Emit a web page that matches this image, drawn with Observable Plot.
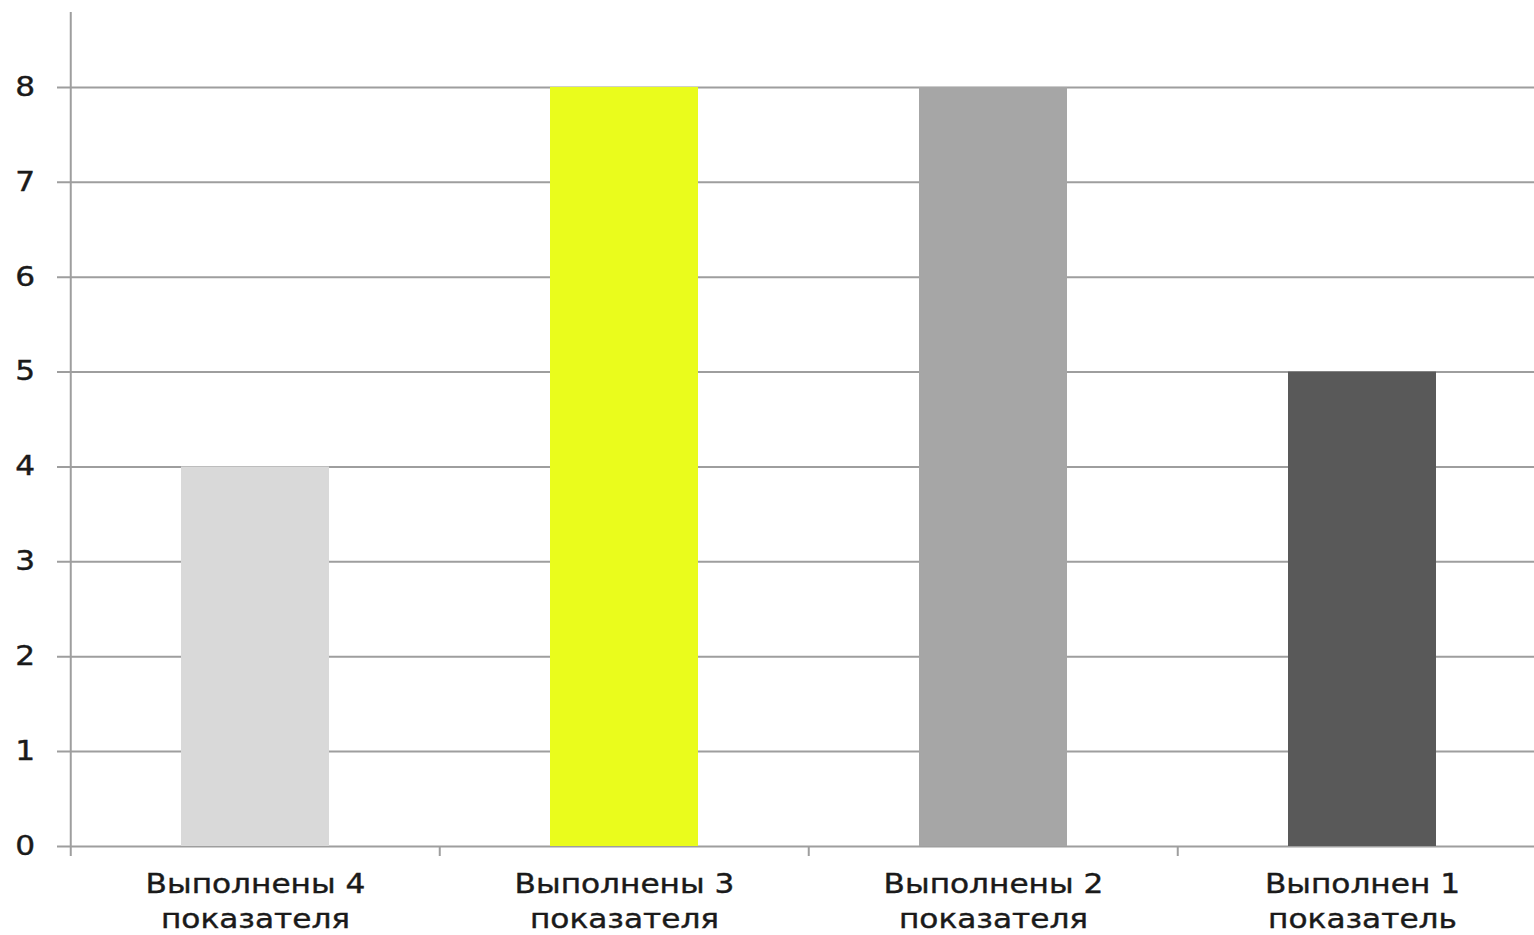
<!DOCTYPE html>
<html>
<head>
<meta charset="utf-8">
<script src="https://cdn.jsdelivr.net/npm/d3@7"></script>
<script src="https://cdn.jsdelivr.net/npm/@observablehq/plot@0.6"></script>
<style>
  html, body { margin: 0; padding: 0; background: #fff; overflow: hidden; }
  #chart svg { display: block; overflow: visible; }
  #chart text { stroke: #1a1a1a; stroke-width: 0.4px; }
  .stretch { transform-box: fill-box; transform-origin: center; transform: scaleX(1.2); }
</style>
</head>
<body>
<div id="chart"></div>
<script>
const categories = ["Выполнены 4 показателя", "Выполнены 3 показателя", "Выполнены 2 показателя", "Выполнен 1 показатель"];
const line1 = ["Выполнены 4", "Выполнены 3", "Выполнены 2", "Выполнен 1"];
const line2 = ["показателя", "показателя", "показателя", "показатель"];
const values = [4, 8, 8, 5];
const colors = ["#d9d9d9", "#eafc1c", "#a6a6a6", "#595959"];
const yTicks = [0, 1, 2, 3, 4, 5, 6, 7, 8];
const yMax = 8.79;

const data = categories.map((c, i) => ({cat: c, value: values[i], color: colors[i], l1: line1[i], l2: line2[i]}));

const width = 1534, height = 935;
const marginLeft = 69, marginRight = -13, marginTop = 12, marginBottom = 89;
const step = (width - marginLeft - marginRight) / categories.length;
const font = "'DejaVu Sans', Verdana, sans-serif";

const chart = Plot.plot({
  width, height, marginLeft, marginRight, marginTop, marginBottom,
  style: {fontFamily: font, fontSize: "26px", background: "#fff", color: "#1a1a1a", overflow: "visible"},
  x: {domain: categories, paddingInner: 0.6, paddingOuter: 0.3, axis: null},
  y: {domain: [0, yMax], ticks: yTicks, tickSize: 0, tickPadding: 36, label: null, tickFormat: d => String(d)},
  marks: [
    Plot.ruleY(yTicks, {stroke: "#9e9e9e", strokeWidth: 2, insetLeft: -12}),
    Plot.barY(data, {x: "cat", y: "value", fill: "color"}),
    Plot.ruleX([categories[0]], {x: d => d, dx: -step / 2, y1: yMax, y2: 0, insetBottom: -10, stroke: "#9e9e9e", strokeWidth: 2}),
    Plot.ruleX(categories.slice(1), {x: d => d, dx: -step / 2, y1: 0, y2: 0, insetBottom: -10, stroke: "#9e9e9e", strokeWidth: 2}),
    Plot.text(data, {x: "cat", text: "l1", frameAnchor: "bottom", dy: 46, fontSize: 26, fill: "#1a1a1a"}),
    Plot.text(data, {x: "cat", text: "l2", frameAnchor: "bottom", dy: 81, fontSize: 26, fill: "#1a1a1a"})
  ]
});
document.getElementById("chart").appendChild(chart);
chart.querySelectorAll("text").forEach(t => {
  const g = document.createElementNS("http://www.w3.org/2000/svg", "g");
  g.setAttribute("class", "stretch");
  t.parentNode.insertBefore(g, t);
  g.appendChild(t);
});
</script>
</body>
</html>
